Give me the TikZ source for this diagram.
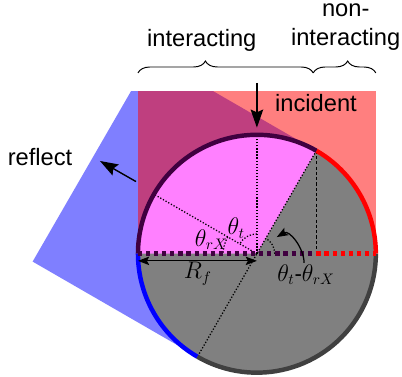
\documentclass[tikz,border=0pt]{standalone}
\usepackage[no-math]{fontspec}
\setmainfont{Liberation Sans}
\usepackage{tikz}
\usetikzlibrary{arrows.meta,decorations.pathreplacing}
\definecolor{darkplum}{RGB}{64,0,64}
\definecolor{darkgrey}{RGB}{64,64,64}
\definecolor{corepink}{RGB}{255,128,255}
\tikzset{
  bigarr/.style   = {-{Stealth[length=13pt,width=9pt,inset=2pt]},line width=1pt},
  smallarr/.style = {-{Stealth[length=8pt,width=6pt,inset=1.5pt]},line width=0.9pt},
  dblarr/.style   = {{Stealth[length=8pt,width=6pt,inset=1.5pt]}-{Stealth[length=8pt,width=6pt,inset=1.5pt]},line width=0.9pt},
  rim/.style      = {line width=3.2pt},
  rimdash/.style  = {line width=3.2pt,dash pattern=on 3pt off 2.8pt},
  guide/.style    = {line width=0.9pt,dash pattern=on 0.9pt off 1.3pt},
  drop/.style     = {line width=0.8pt,dash pattern=on 2.2pt off 1.6pt},
  brc/.style      = {decorate,line width=0.7pt,decoration={brace,amplitude=0.3cm,#1}},
  txt/.style      = {font=\fontsize{17}{21}\selectfont},
  mth/.style      = {font=\fontsize{16}{19}\selectfont,inner sep=1pt}
}
\begin{document}
\begin{tikzpicture}
  \useasboundingbox (-6.48,-3.10) rectangle (3.66,6.40);
  % rim points
  \coordinate (ctr)  at (0,0);
  \coordinate (p0)   at (0:3);
  \coordinate (p60)  at (60:3);
  \coordinate (p90)  at (90:3);
  \coordinate (p150) at (150:3);
  \coordinate (p180) at (180:3);
  \coordinate (p240) at (240:3);
  \coordinate (foot) at (1.5,0);
  % beams
  \begin{scope}
    \clip (-7,-4) rectangle (4,4.1);
    \fill[blue,opacity=0.5] (60:3) -- (240:3) -- ([shift={(150:4.8)}]240:3)
      -- ([shift={(150:4.8)}]60:3) -- cycle;
  \end{scope}
  \fill[red,opacity=0.5] (-3,0) rectangle (3,4.1);
  % fibre
  \fill[gray] (ctr) circle (3);
  \fill[corepink] (ctr) -- (p60) arc (60:180:3) -- cycle;
  \draw[guide] (ctr) -- (p90);
  \draw[guide] (ctr) -- (p150);
  \draw[guide] (p60) -- (p240);
  \draw[guide] (90:0.5) arc (90:150:0.5);
  \draw[guide] (150:0.85) arc (150:180:0.85);
  \draw[guide] (0:0.45) arc (0:60:0.45);
  \draw[drop] (p60) -- (foot);
  \draw[rim,red]       (p0) arc (0:60:3);
  \draw[rim,darkplum]  (p60) arc (60:180:3);
  \draw[rim,blue]      (p180) arc (180:240:3);
  \draw[rim,darkgrey]  (p240) arc (240:360:3);
  \draw[rimdash,darkplum] (p180) -- (foot);
  \draw[rimdash,red]      (foot) -- (p0);
  % radius
  \coordinate (rl) at (-3,-0.18);
  \coordinate (rr) at (0,-0.18);
  \draw[dblarr] (rl) -- (rr);
  \node[mth] (rf) at (-1.49,-0.5) {$R_f$};
  % angles
  \node[mth] (tht) at (-0.52,0.65) {$\theta_t$};
  \node[mth] (thr) at (-1.15,0.36) {$\theta_{rX}$};
  \node[mth] (dif) at (1.24,-0.53) {$\theta_t$-$\theta_{rX}$};
  \coordinate (dtip) at (0.5,0.42);
  \draw[smallarr] ([xshift=-0.05cm]dif.north) to[out=90,in=30] (dtip);
  % arrows
  \coordinate (inA) at (0,4.31);
  \coordinate (inB) at (0,3.18);
  \draw[bigarr] (inA) -- (inB);
  \coordinate (reA) at (-3.05,1.82);
  \coordinate (reB) at (-3.96,2.34);
  \draw[bigarr] (reA) -- (reB);
  \node[txt] (inc) at (1.49,3.81) {incident};
  \node[txt] (ref) at (-5.47,2.45) {reflect};
  % braces
  \coordinate (bl) at (-3,4.56);
  \coordinate (bm) at (1.42,4.56);
  \coordinate (br) at (3,4.56);
  \draw[brc={aspect=0.385}] (bl) -- (bm);
  \draw[brc={aspect=0.55}]  (bm) -- (br);
  \node[txt] (intr) at (-1.39,5.39) {interacting};
  \node[txt,align=center] (nint) at (2.24,5.71) {non-\\interacting};
\end{tikzpicture}
\end{document}
